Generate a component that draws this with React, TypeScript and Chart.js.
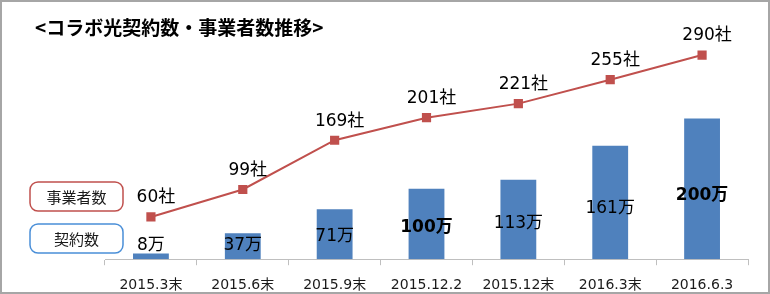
import React, { useEffect, useRef } from 'react';
import { Chart, registerables } from 'chart.js';

Chart.register(...registerables);

const categories = ['2015.3末', '2015.6末', '2015.9末', '2015.12.2', '2015.12末', '2016.3末', '2016.6.3'];
const contracts = [8, 37, 71, 100, 113, 161, 200]; // 万
const operators = [60, 99, 169, 201, 221, 255, 290]; // 社
const titleText = '<コラボ光契約数・事業者数推移>';
const legendOperators = '事業者数';
const legendContracts = '契約数';
const contractUnit = '万';
const operatorUnit = '社';
const yMax = 300;

const NUM_FONT = '"DejaVu Sans", "Noto Sans CJK JP", sans-serif';
const CJK_FONT = '"Noto Sans CJK JP", "DejaVu Sans", sans-serif';
const BAR_COLOR = '#4F81BD';
const LINE_COLOR = '#C0504D';

function box(ctx: CanvasRenderingContext2D, x: number, y: number, w: number, h: number, r: number, color: string, text: string) {
  ctx.beginPath();
  ctx.moveTo(x + r, y);
  ctx.lineTo(x + w - r, y);
  ctx.arcTo(x + w, y, x + w, y + r, r);
  ctx.lineTo(x + w, y + h - r);
  ctx.arcTo(x + w, y + h, x + w - r, y + h, r);
  ctx.lineTo(x + r, y + h);
  ctx.arcTo(x, y + h, x, y + h - r, r);
  ctx.lineTo(x, y + r);
  ctx.arcTo(x, y, x + r, y, r);
  ctx.closePath();
  ctx.fillStyle = '#ffffff';
  ctx.fill();
  ctx.lineWidth = 1.5;
  ctx.strokeStyle = color;
  ctx.stroke();
  ctx.fillStyle = '#1a1a1a';
  ctx.font = '15px ' + CJK_FONT;
  ctx.textAlign = 'center';
  ctx.textBaseline = 'middle';
  ctx.fillText(text, x + w / 2, y + h / 2 + 1);
}

const overlay = {
  id: 'overlay',
  beforeDraw(chart: any) {
    const ctx: CanvasRenderingContext2D = chart.ctx;
    ctx.save();
    ctx.fillStyle = '#ffffff';
    ctx.fillRect(0, 0, chart.width, chart.height);
    ctx.strokeStyle = '#a6a6a6';
    ctx.lineWidth = 2;
    ctx.strokeRect(1, 1, chart.width - 2, chart.height - 2);
    ctx.fillStyle = '#000000';
    ctx.font = 'bold 19px ' + CJK_FONT;
    ctx.textAlign = 'left';
    ctx.textBaseline = 'middle';
    ctx.fillText(titleText, 35, 28);
    box(ctx, 30, 182, 93, 29, 8, LINE_COLOR, legendOperators);
    box(ctx, 30, 224, 93, 29, 8, '#4A8FD8', legendContracts);
    ctx.restore();
  },
  afterDatasetsDraw(chart: any) {
    const ctx: CanvasRenderingContext2D = chart.ctx;
    const yScale = chart.scales.y;
    const barMeta = chart.getDatasetMeta(1);
    const lineMeta = chart.getDatasetMeta(0);
    ctx.save();
    ctx.textAlign = 'center';
    ctx.textBaseline = 'middle';
    ctx.fillStyle = '#000000';
    contracts.forEach((v, i) => {
      const el = barMeta.data[i];
      const bold = v % 100 === 0;
      ctx.font = (bold ? 'bold ' : '') + '17px ' + NUM_FONT;
      const yy = yScale.getPixelForValue(Math.max(v * 0.45, 20));
      ctx.fillText(v + contractUnit, el.x, yy);
    });
    ctx.font = '17px ' + NUM_FONT;
    operators.forEach((v, i) => {
      const el = lineMeta.data[i];
      ctx.fillText(v + operatorUnit, el.x + 5, el.y - 19);
    });
    ctx.restore();
  },
};

export default function App() {
  const ref = useRef<HTMLCanvasElement | null>(null);
  useEffect(() => {
    if (!ref.current) return;
    const chart = new Chart(ref.current, {
      type: 'bar',
      data: {
        labels: categories,
        datasets: [
          {
            type: 'line',
            label: legendOperators,
            data: operators,
            borderColor: LINE_COLOR,
            backgroundColor: LINE_COLOR,
            borderWidth: 2,
            pointStyle: 'rect',
            pointRadius: 6.5,
            pointBorderWidth: 0,
            pointBackgroundColor: LINE_COLOR,
            order: 0,
            yAxisID: 'y',
          } as any,
          {
            type: 'bar',
            label: legendContracts,
            data: contracts,
            backgroundColor: BAR_COLOR,
            borderWidth: 0,
            categoryPercentage: 1,
            barPercentage: 0.39,
            order: 1,
            yAxisID: 'y',
          },
        ],
      },
      options: {
        responsive: false,
        animation: false,
        devicePixelRatio: 1,
        layout: { padding: { left: 105, right: 22, top: 48, bottom: -12 } },
        plugins: { legend: { display: false }, tooltip: { enabled: false }, title: { display: false } },
        scales: {
          x: {
            offset: true,
            grid: { offset: true, drawOnChartArea: false, drawTicks: true, tickLength: 6, color: '#bfbfbf' },
            border: { display: true, color: '#bfbfbf', width: 1 },
            ticks: { color: '#1a1a1a', font: { family: NUM_FONT, size: 14 }, padding: 12, maxRotation: 0 },
          },
          y: { display: false, min: 0, max: yMax },
        },
      },
      plugins: [overlay],
    });
    return () => chart.destroy();
  }, []);
  return (
    <div style={{ position: 'absolute', left: 0, top: 0, width: 770, height: 294 }}>
      <canvas ref={ref} width={770} height={294} style={{ width: 770, height: 294, display: 'block' }} />
    </div>
  );
}
